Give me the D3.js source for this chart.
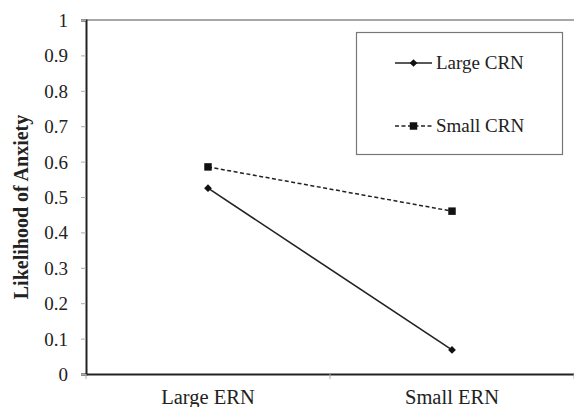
<!DOCTYPE html>
<html><head><meta charset="utf-8">
<script src="https://cdn.jsdelivr.net/npm/d3@7/dist/d3.min.js"></script>
<style>body{margin:0;background:#fff}svg{display:block}svg text{font-family:"Liberation Serif","Times New Roman",serif !important}</style>
</head><body><svg id="c" width="574" height="407"></svg>
<script>
const categories = ["Large ERN", "Small ERN"];
const seriesNames = ["Large CRN", "Small CRN"];
const largeCRN = [0.525, 0.068];
const smallCRN = [0.585, 0.46];
const yTicks = [0, 0.1, 0.2, 0.3, 0.4, 0.5, 0.6, 0.7, 0.8, 0.9, 1];
const yTickLabels = ["0", "0.1", "0.2", "0.3", "0.4", "0.5", "0.6", "0.7", "0.8", "0.9", "1"];

const svg = d3.select("#c");
const L = 86, R = 574, T = 20, B = 374;
const x = d3.scaleBand().domain(categories).range([L, R]);
const y = d3.scaleLinear().domain([0, 1]).range([B, T]);

// top border
svg.append("line").attr("x1", L).attr("x2", R).attr("y1", T).attr("y2", T)
  .attr("stroke", "#8a8a8a").attr("stroke-width", 1.5);

// y axis
const ya = svg.append("g").attr("transform", `translate(${L},0)`)
  .call(d3.axisLeft(y).tickValues(yTicks).tickFormat((d, i) => yTickLabels[i]).tickSize(5).tickPadding(13));
ya.select(".domain").attr("stroke", "#222").attr("stroke-width", 2);
ya.selectAll(".tick line").attr("stroke", "#aaa");
ya.selectAll(".tick text").attr("font-size", 19).attr("fill", "#222").attr("dy", "0.34em");

// x axis
const xa = svg.append("g").attr("transform", `translate(0,${B})`)
  .call(d3.axisBottom(x).tickSize(0).tickPadding(15));
xa.select(".domain").attr("stroke", "#222").attr("stroke-width", 2);
xa.selectAll(".tick text").attr("font-size", 20.5).attr("fill", "#222");
// boundary tick marks between categories
const bounds = [L, x(categories[1]), R];
svg.selectAll(".xb").data(bounds).join("line")
  .attr("x1", d => d).attr("x2", d => d).attr("y1", B).attr("y2", B + 5)
  .attr("stroke", "#aaa");

// y label
svg.append("text").attr("transform", `translate(28,207) rotate(-90)`)
  .attr("text-anchor", "middle").attr("font-size", 20).attr("font-weight", "bold")
  .attr("fill", "#222").text("Likelihood of Anxiety");

const cx = d => x(d) + x.bandwidth() / 2;
const line = d3.line().x(d => cx(d.c)).y(d => y(d.v));
const d1 = categories.map((c, i) => ({c, v: largeCRN[i]}));
const d2 = categories.map((c, i) => ({c, v: smallCRN[i]}));

svg.append("path").datum(d2).attr("d", line).attr("fill", "none")
  .attr("stroke", "#222").attr("stroke-width", 1.5).attr("stroke-dasharray", "4,2.5");
svg.append("path").datum(d1).attr("d", line).attr("fill", "none")
  .attr("stroke", "#222").attr("stroke-width", 1.6);

const diamond = d3.symbol().type(d3.symbolSquare).size(30);
const square = d3.symbol().type(d3.symbolSquare).size(56);
svg.selectAll(".m1").data(d1).join("path").attr("d", diamond)
  .attr("transform", d => `translate(${cx(d.c)},${y(d.v)}) rotate(45)`).attr("fill", "#111");
svg.selectAll(".m2").data(d2).join("path").attr("d", square)
  .attr("transform", d => `translate(${cx(d.c)},${y(d.v)})`).attr("fill", "#111");

// legend
const lg = svg.append("g");
lg.append("rect").attr("x", 356.5).attr("y", 32.5).attr("width", 206).attr("height", 122)
  .attr("fill", "#fff").attr("stroke", "#777").attr("stroke-width", 1.2);
const legendRows = [
  {name: seriesNames[0], y: 63, dash: null, sym: diamond, rot: 45},
  {name: seriesNames[1], y: 126, dash: "4,2.5", sym: square, rot: 0}
];
legendRows.forEach(r => {
  lg.append("line").attr("x1", 395).attr("x2", 432).attr("y1", r.y).attr("y2", r.y)
    .attr("stroke", "#222").attr("stroke-width", 1.5).attr("stroke-dasharray", r.dash);
  lg.append("path").attr("d", r.sym).attr("transform", `translate(413.5,${r.y}) rotate(${r.rot})`).attr("fill", "#111");
  lg.append("text").attr("x", 436).attr("y", r.y + 6).attr("font-size", 19).attr("fill", "#222").text(r.name);
});
</script></body></html>
